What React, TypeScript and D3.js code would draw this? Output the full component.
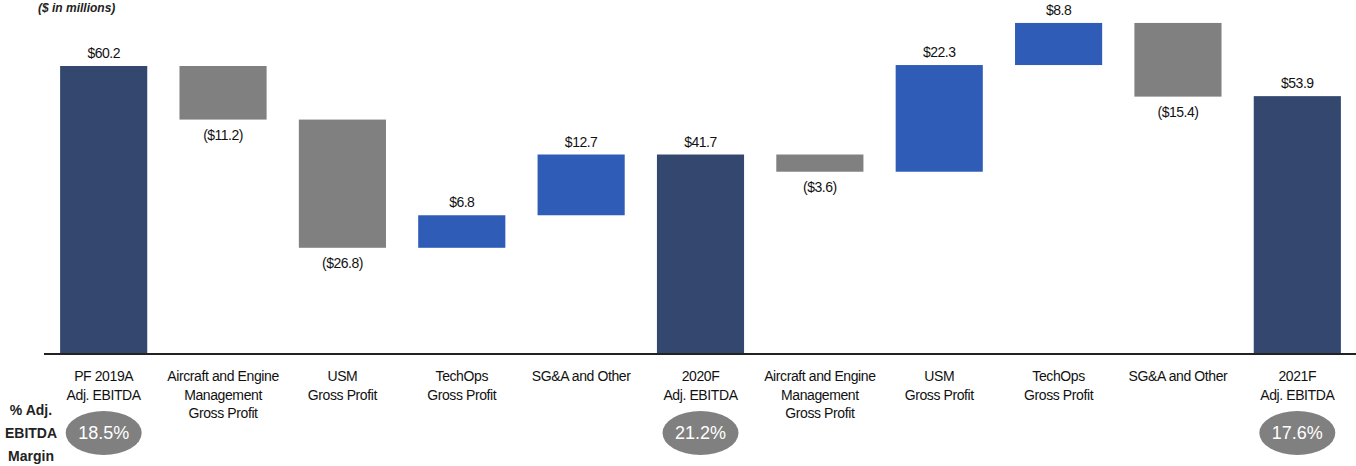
import React from "react";
import * as d3 from "d3";

const categories: string[][] = [
  ["PF 2019A", "Adj. EBITDA"],
  ["Aircraft and Engine", "Management", "Gross Profit"],
  ["USM", "Gross Profit"],
  ["TechOps", "Gross Profit"],
  ["SG&A and Other"],
  ["2020F", "Adj. EBITDA"],
  ["Aircraft and Engine", "Management", "Gross Profit"],
  ["USM", "Gross Profit"],
  ["TechOps", "Gross Profit"],
  ["SG&A and Other"],
  ["2021F", "Adj. EBITDA"],
];
const values: number[] = [60.2, -11.2, -26.8, 6.8, 12.7, 41.7, -3.6, 22.3, 8.8, -15.4, 53.9];
const isTotal: boolean[] = [true, false, false, false, false, true, false, false, false, false, true];
const marginIdx: number[] = [0, 5, 10];
const marginLabels: string[] = ["18.5%", "21.2%", "17.6%"];

const W = 1356;
const H = 466;
const NAVY = "#34486f";
const BLUE = "#2e5cb6";
const GRAY = "#808080";

function fmt(v: number) {
  const s = "$" + Math.abs(v).toFixed(1);
  return v < 0 ? "(" + s + ")" : s;
}

export default function App() {
  const x = d3
    .scaleBand<number>()
    .domain(values.map((_, i) => i))
    .range([44, 1357])
    .paddingInner(0.27)
    .paddingOuter(0.135);
  const y = d3.scaleLinear().domain([0, 60.2]).range([354, 66]);

  let running = 0;
  const bars = values.map((v, i) => {
    let lo: number, hi: number;
    if (isTotal[i]) {
      lo = 0;
      hi = v;
      running = v;
    } else {
      const start = running;
      running = start + v;
      lo = Math.min(start, running);
      hi = Math.max(start, running);
    }
    return { i, v, lo, hi };
  });

  const font = "'Liberation Sans', Arial, sans-serif";

  return (
    <svg width={W} height={H} style={{ position: "absolute", left: 0, top: 0 }} fontFamily={font}>
      <rect width={W} height={H} fill="#fff" />
      <text x={38} y={12} fontSize={12} fontWeight="bold" fontStyle="italic" fill="#222">
        ($ in millions)
      </text>
      {bars.map((b) => {
        const bx = x(b.i)!;
        const bw = x.bandwidth();
        const top = y(b.hi);
        const bottom = y(b.lo);
        const color = isTotal[b.i] ? NAVY : b.v < 0 ? GRAY : BLUE;
        const cx = bx + bw / 2;
        return (
          <g key={b.i}>
            <rect x={bx} y={top} width={bw} height={bottom - top} fill={color} />
            {b.v >= 0 ? (
              <text x={cx} y={top - 8} textAnchor="middle" fontSize={14} fill="#111" letterSpacing={-0.5}>
                {fmt(b.v)}
              </text>
            ) : (
              <text x={cx} y={bottom + 20} textAnchor="middle" fontSize={14} fill="#111" letterSpacing={-0.5}>
                {fmt(b.v)}
              </text>
            )}
            {categories[b.i].map((line, k) => (
              <text
                key={k}
                x={cx}
                y={381 + k * 18.5}
                textAnchor="middle"
                fontSize={14}
                fill="#111"
                letterSpacing={-0.4}
              >
                {line}
              </text>
            ))}
          </g>
        );
      })}
      <line x1={44} x2={W} y1={354} y2={354} stroke="#222" strokeWidth={2} />
      {marginIdx.map((idx, k) => {
        const cx = x(idx)! + x.bandwidth() / 2;
        return (
          <g key={k}>
            <ellipse cx={cx} cy={433} rx={38} ry={22} fill={GRAY} />
            <text x={cx} y={439} textAnchor="middle" fontSize={18} fill="#fff">
              {marginLabels[k]}
            </text>
          </g>
        );
      })}
      <g fontSize={14} fontWeight="bold" fill="#222" textAnchor="middle">
        <text x={31} y={415}>% Adj.</text>
        <text x={31} y={438}>EBITDA</text>
        <text x={31} y={461}>Margin</text>
      </g>
    </svg>
  );
}
